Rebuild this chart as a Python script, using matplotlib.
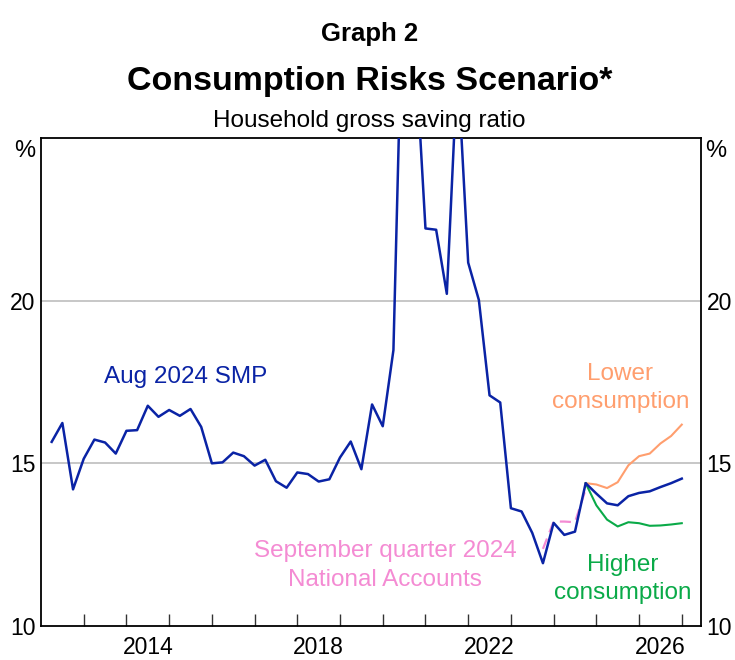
import numpy as np
import pandas as pd
import matplotlib
matplotlib.use("Agg")
import matplotlib.pyplot as plt

plt.rcParams['font.family'] = ['Liberation Sans', 'DejaVu Sans']

# household gross saving ratio, %, quarterly
quarters = pd.period_range('2012Q1', '2026Q4', freq='Q')
smp_aug2024 = [
    15.66, 16.24, 14.20, 15.14,   # 2012
    15.73, 15.64, 15.30, 16.00,   # 2013
    16.02, 16.77, 16.43, 16.64,   # 2014
    16.46, 16.67, 16.12, 15.00,   # 2015
    15.03, 15.33, 15.22, 14.93,   # 2016
    15.11, 14.45, 14.25, 14.72,   # 2017
    14.67, 14.44, 14.51, 15.18,   # 2018
    15.67, 14.82, 16.81, 16.14,   # 2019
    18.48, 31.50, 28.00, 22.22,   # 2020
    22.18, 20.21, 27.30, 21.17,   # 2021
    20.02, 17.09, 16.87, 13.62,   # 2022
    13.52, 12.86, 11.93, 13.17,   # 2023
    12.80, 12.90, 14.39, 14.07,   # 2024
    13.77, 13.71, 13.99, 14.09,   # 2025
    14.14, 14.27, 14.39, 14.53,   # 2026
]
# scenarios start 2024Q3
scen_start = '2024Q3'
lower_cons = [14.39, 14.35, 14.24, 14.42, 14.94, 15.22, 15.30, 15.61, 15.84, 16.19]
higher_cons = [14.39, 13.71, 13.27, 13.06, 13.19, 13.16, 13.08, 13.09, 13.12, 13.16]
# September quarter 2024 National Accounts, 2023Q3 to 2024Q3
na_start = '2023Q3'
na_sep2024 = [12.37, 13.21, 13.21, 13.19, 14.20]

year_ticks = list(range(2013, 2028))
year_labels = [2014, 2018, 2022, 2026]

blue = '#0A23A5'
orange = '#FF9E6E'
green = '#0AAA48'
pink = '#F48BD3'


def qx(periods):
    # plot each quarter at its end
    return np.array([p.year + p.quarter / 4 for p in periods])


x_all = qx(quarters)
i_scen = list(quarters).index(pd.Period(scen_start, 'Q'))
i_na = list(quarters).index(pd.Period(na_start, 'Q'))

fig = plt.figure(figsize=(7.35, 6.6), dpi=100)
ax = fig.add_axes([41 / 735, 1 - 626 / 660, 660 / 735, 488 / 660])

ax.axhline(15, color='#BDBDBD', lw=1.2, zorder=0)
ax.axhline(20, color='#BDBDBD', lw=1.2, zorder=0)

ax.plot(x_all[i_na:i_na + len(na_sep2024)], na_sep2024, color=pink, lw=1.6,
        dashes=(5, 3), zorder=2)
ax.plot(x_all[i_scen:i_scen + len(lower_cons)], lower_cons, color=orange, lw=1.5, zorder=2)
ax.plot(x_all[i_scen:i_scen + len(higher_cons)], higher_cons, color=green, lw=1.5, zorder=2)
ax.plot(x_all, smp_aug2024, color=blue, lw=1.8, zorder=3)

ax.set_xlim(2012.0, 2027.45)
ax.set_ylim(10, 25)

ax.set_xticks(year_ticks)
ax.set_xticklabels([])
ax.set_xticks([y + 0.5 for y in year_labels], minor=True)
ax.set_xticklabels([str(y) for y in year_labels], minor=True)
ax.tick_params(axis='x', which='major', direction='in', length=9, width=1, color='#333333')
ax.tick_params(axis='x', which='minor', length=0, labelsize=16.5, pad=7)

ax.set_yticks([10, 15, 20])
ax.set_yticklabels(['10', '15', '20'])
ax.tick_params(axis='y', length=0, labelsize=16.5, pad=4, labelright=True, right=False)

for s in ax.spines.values():
    s.set_linewidth(1.3)

ax.text(-0.008, 0.973, '%', transform=ax.transAxes, ha='right', va='center', fontsize=17)
ax.text(1.006, 0.973, '%', transform=ax.transAxes, ha='left', va='center', fontsize=17)

ax.text(2013.48, 17.46, 'Aug 2024 SMP', color=blue, fontsize=17.5, ha='left', va='baseline')
ax.text(2025.56, 17.56, 'Lower', color=orange, fontsize=17.5, ha='center', va='baseline')
ax.text(2025.56, 16.69, 'consumption', color=orange, fontsize=17.5, ha='center', va='baseline')
ax.text(2020.06, 12.13, 'September quarter 2024', color=pink, fontsize=17.5, ha='center', va='baseline')
ax.text(2020.06, 11.24, 'National Accounts', color=pink, fontsize=17.5, ha='center', va='baseline')
ax.text(2025.61, 11.70, 'Higher', color=green, fontsize=17.5, ha='center', va='baseline')
ax.text(2025.61, 10.84, 'consumption', color=green, fontsize=17.5, ha='center', va='baseline')

fig.text(0.503, 1 - 41 / 660, 'Graph 2', ha='center', va='baseline', fontsize=18.5, fontweight='bold')
fig.text(0.503, 1 - 90 / 660, 'Consumption Risks Scenario*', ha='center', va='baseline',
         fontsize=24.5, fontweight='bold')
fig.text(0.503, 1 - 127 / 660, 'Household gross saving ratio', ha='center', va='baseline', fontsize=17.5)

fig.savefig('out.png', dpi=100)
